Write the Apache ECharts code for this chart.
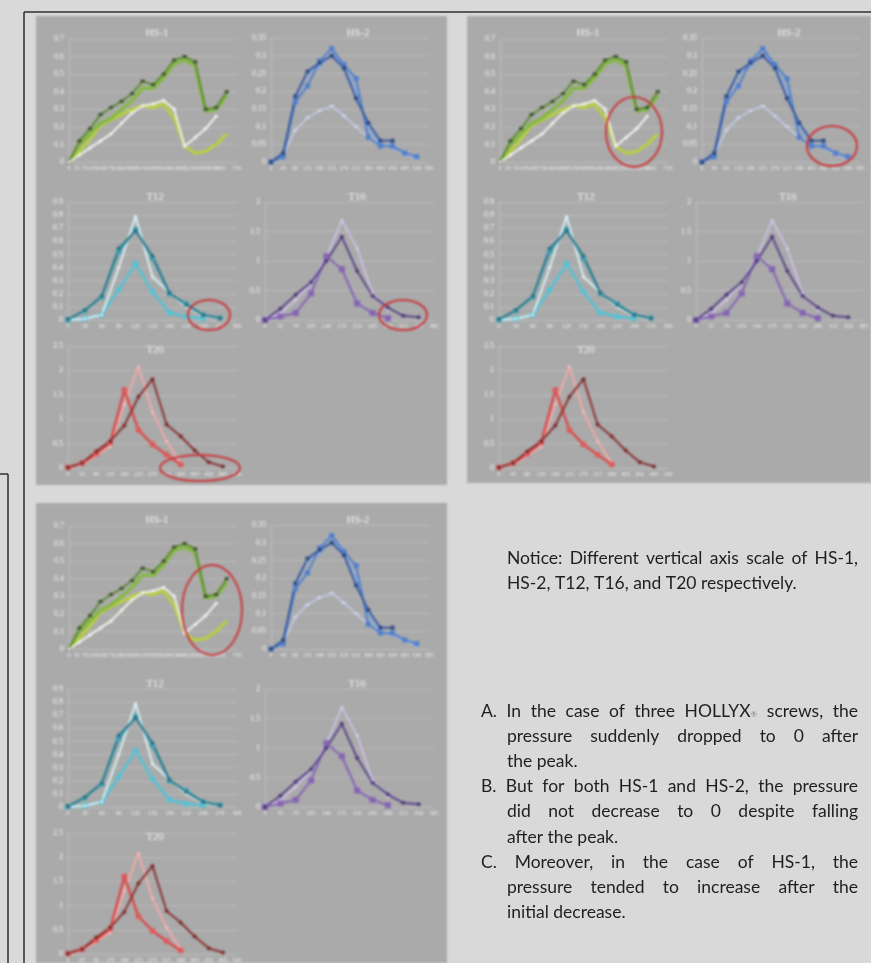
<!DOCTYPE html>
<html>
<head>
<meta charset="utf-8">
<script src="https://cdn.jsdelivr.net/npm/echarts/dist/echarts.min.js"></script>
<style>
  html, body { margin: 0; padding: 0; background: #d9d9d9; overflow: hidden; }
  #plots, #notes { position: absolute; left: 0; top: 0; width: 871px; height: 963px; }
  #plots { filter: blur(0.8px); }
</style>
</head>
<body>
<div id="plots"></div>
<div id="notes"></div>
<script>
// ---------------- data ----------------
// HS-1 : time axis (value axis, tick labels every 35 up to 735)
const hs1TickStep = 35;
const hs1AxisMax = 735;
const hs1Times       = [0, 46, 92, 138, 184, 230, 276, 322, 368, 414, 460, 506, 552, 598, 644, 690];
const hs1DarkGreen   = [0, 0.12, 0.19, 0.27, 0.31, 0.345, 0.39, 0.46, 0.44, 0.50, 0.58, 0.60, 0.57, 0.30, 0.31, 0.40];
const hs1Green       = [0, 0.10, 0.16, 0.22, 0.25, 0.30, 0.35, 0.42, 0.42, 0.48, 0.56, 0.58, 0.55, 0.29, 0.30, 0.38];
const hs1YellowGreen = [0, 0.06, 0.13, 0.21, 0.24, 0.27, 0.30, 0.32, 0.31, 0.33, 0.25, 0.09, 0.05, 0.06, 0.10, 0.16];
const hs1White       = [0, 0.04, 0.08, 0.12, 0.16, 0.22, 0.28, 0.32, 0.33, 0.35, 0.30, 0.09, 0.14, 0.19, 0.26];

// HS-2
const hs2Cats  = ['0', '45', '90', '135', '180', '225', '270', '315', '360', '405', '450', '495', '540', '585'];
const hs2Navy  = [0, 0.025, 0.185, 0.255, 0.28, 0.30, 0.265, 0.18, 0.11, 0.06, 0.06];
const hs2Blue  = [0, 0.015, 0.17, 0.215, 0.285, 0.32, 0.275, 0.235, 0.07, 0.045, 0.045, 0.025, 0.015];
const hs2Sky   = [0, 0.02, 0.18, 0.25, 0.27, 0.305, 0.27, 0.20, 0.10, 0.05, 0.04, 0.025, 0.012];
const hs2Pale  = [0, 0.02, 0.09, 0.125, 0.145, 0.158, 0.13, 0.10, 0.068, 0.05, 0.04, 0.022, 0.01];

// T12
const t12Cats  = ['0', '30', '60', '90', '120', '150', '180', '210', '240', '270', '300'];
const t12Dark  = [0.005, 0.076, 0.183, 0.546, 0.68, 0.488, 0.208, 0.114, 0.038, 0.013];
const t12Teal  = [0.005, 0.07, 0.175, 0.52, 0.69, 0.47, 0.20, 0.125, 0.04, 0.015];
const t12Pale  = [0, 0.01, 0.04, 0.40, 0.79, 0.33, 0.21, 0.10, 0.03, 0.01];
const t12Cyan  = [0, 0.01, 0.04, 0.23, 0.43, 0.215, 0.055, 0.025, 0.012];

// T16
const t16Cats   = ['0', '35', '70', '105', '140', '175', '210', '245', '280', '315', '350', '385'];
const t16Dark   = [0, 0.19, 0.43, 0.64, 1.00, 1.41, 0.83, 0.41, 0.21, 0.07, 0.045];
const t16Purple = [0, 0.06, 0.12, 0.45, 1.08, 0.86, 0.28, 0.12, 0.03];
const t16Pale   = [0, 0.11, 0.34, 0.62, 1.07, 1.69, 1.21, 0.45, 0.17];

// T20
const t20Cats = ['0', '45', '90', '135', '180', '225', '270', '315', '360', '405', '450', '495', '540'];
const t20Dark = [0.01, 0.10, 0.34, 0.55, 0.87, 1.46, 1.82, 0.89, 0.65, 0.36, 0.12, 0.03];
const t20Red  = [0.01, 0.10, 0.29, 0.52, 1.60, 0.78, 0.48, 0.27, 0.07];
const t20Pink = [0, 0.07, 0.25, 0.44, 1.30, 2.08, 1.15, 0.55, 0.10];

// annotation text
const noticeLines = [
  'Notice: Different vertical axis scale of HS-1,',
  'HS-2, T12, T16, and T20 respectively.'
];
const pointLines = [
  ['A. In the case of three HOLLYX® screws, the', 'pressure suddenly dropped to 0 after', 'the peak.'],
  ['B. But for both HS-1 and HS-2, the pressure', 'did not decrease to 0 despite falling', 'after the peak.'],
  ['C. Moreover, in the case of HS-1, the', 'pressure tended to increase after the', 'initial decrease.']
];

// ---------------- chart definitions (layout relative to a panel) ----------------
const chartDefs = [
  { title: 'HS-1', left: 33, top: 23, width: 168, height: 123, yMax: 0.7, yStep: 0.1, titleX: 121, titleY: 17,
    xValue: true,
    lines: [
      { vals: hs1YellowGreen, color: '#b7d040', width: 3 },
      { vals: hs1Green, color: '#86b845', width: 3.5 },
      { vals: hs1DarkGreen, color: '#5e8c34', width: 2, symbol: 'rect', size: [4, 3], mark: '#3d4f2c' },
      { vals: hs1White, color: '#f0f0ea', width: 2, symbol: 'diamond', size: 4, mark: '#f4f4f0' }
    ] },
  { title: 'HS-2', left: 235, top: 22, width: 158, height: 124, yMax: 0.35, yStep: 0.05, titleX: 322, titleY: 17,
    cats: hs2Cats,
    lines: [
      { vals: hs2Pale, color: '#c3cdee', width: 1.5, symbol: 'rect', size: [4, 2], mark: '#d6dcf2' },
      { vals: hs2Sky, color: '#86a8de', width: 2, symbol: 'circle', size: 3, mark: '#86a8de' },
      { vals: hs2Blue, color: '#4f7fcf', width: 2, symbol: 'rect', size: 5, mark: '#4f7fcf' },
      { vals: hs2Navy, color: '#3b5b9b', width: 2, symbol: 'rect', size: 4, mark: '#2f4b82' }
    ] },
  { title: 'T12', left: 32, top: 186, width: 169, height: 118, yMax: 0.9, yStep: 0.1, titleX: 119, titleY: 181,
    cats: t12Cats,
    lines: [
      { vals: t12Cyan, color: '#52c3d8', width: 2.5, symbol: 'rect', size: 5, mark: '#52c3d8' },
      { vals: t12Pale, color: '#d8eff3', width: 2, symbol: 'circle', size: 3, mark: '#e6f5f7' },
      { vals: t12Teal, color: '#3fa1b5', width: 2, symbol: 'rect', size: 5, mark: '#3fa1b5' },
      { vals: t12Dark, color: '#2d7b8c', width: 2, symbol: 'circle', size: 4, mark: '#2a6f7f' }
    ] },
  { title: 'T16', left: 229, top: 186, width: 169, height: 118, yMax: 2, yStep: 0.5, titleX: 321, titleY: 181,
    cats: t16Cats,
    lines: [
      { vals: t16Pale, color: '#cbbfe2', width: 2, symbol: 'circle', size: 3, mark: '#d8cfeb' },
      { vals: t16Purple, color: '#8664b4', width: 2, symbol: 'rect', size: 6, mark: '#8664b4' },
      { vals: t16Dark, color: '#5a4787', width: 2, symbol: 'circle', size: 4, mark: '#4d3b78' }
    ] },
  { title: 'T20', left: 32, top: 330, width: 169, height: 122, yMax: 2.5, yStep: 0.5, titleX: 119, titleY: 334,
    cats: t20Cats,
    lines: [
      { vals: t20Pink, color: '#f3a9a9', width: 2, symbol: 'circle', size: 3, mark: '#f6c0c0' },
      { vals: t20Red, color: '#d94c4c', width: 2.5, symbol: 'circle', size: 6, mark: '#e05a5a' },
      { vals: t20Dark, color: '#8a3434', width: 2, symbol: 'circle', size: 4, mark: '#7a2c2c' }
    ] }
];

// three slide panels, each with its own red highlight rings
const panels = [
  { x: 36, y: 16, w: 411, h: 469, rings: [
      { cx: 173, cy: 299, rx: 21, ry: 15 },
      { cx: 367, cy: 299, rx: 24, ry: 15 },
      { cx: 164, cy: 452, rx: 40, ry: 13 } ] },
  { x: 467, y: 16, w: 404, h: 467, rings: [
      { cx: 167, cy: 116, rx: 28, ry: 35 },
      { cx: 365, cy: 130, rx: 25, ry: 20 } ] },
  { x: 36, y: 503, w: 411, h: 470, rings: [
      { cx: 176, cy: 107, rx: 30, ry: 45 } ] }
];

// ---------------- build the plots ----------------
const labelFont = '"Liberation Serif", "DejaVu Serif", serif';
const grids = [], xAxes = [], yAxes = [], series = [], plotGraphics = [];

panels.forEach(p => {
  plotGraphics.push({ type: 'rect', z: -100, silent: true,
    shape: { x: p.x, y: p.y, width: p.w, height: p.h }, style: { fill: '#aaaaaa' } });

  chartDefs.forEach(c => {
    const gi = grids.length;
    grids.push({ left: p.x + c.left, top: p.y + c.top, width: c.width, height: c.height });
    if (c.xValue) {
      xAxes.push({ type: 'value', gridIndex: gi, min: 0, max: hs1AxisMax, interval: hs1TickStep,
        splitLine: { show: false }, axisTick: { show: false },
        axisLine: { show: true, lineStyle: { color: '#bdbdbd' } },
        axisLabel: { color: '#eeeeee', fontSize: 6, margin: 3, fontFamily: labelFont, showMinLabel: true, showMaxLabel: true } });
    } else {
      xAxes.push({ type: 'category', gridIndex: gi, data: c.cats, boundaryGap: false,
        splitLine: { show: false }, axisTick: { show: false },
        axisLine: { show: true, lineStyle: { color: '#bdbdbd' } },
        axisLabel: { color: '#eeeeee', fontSize: 6, margin: 3, interval: 0, fontFamily: labelFont } });
    }
    yAxes.push({ type: 'value', gridIndex: gi, min: 0, max: c.yMax, interval: c.yStep,
      splitLine: { show: true, lineStyle: { color: '#bababa', width: 1 } },
      axisLine: { show: true, lineStyle: { color: '#bdbdbd' } }, axisTick: { show: false },
      axisLabel: { color: '#f4f4f4', fontSize: 8, margin: 5, fontFamily: labelFont } });

    c.lines.forEach(l => {
      const data = c.xValue ? l.vals.map((v, i) => [hs1Times[i], v]) : l.vals;
      series.push({ type: 'line', xAxisIndex: gi, yAxisIndex: gi, data: data,
        showSymbol: !!l.symbol, symbol: l.symbol || 'none', symbolSize: l.size || 0,
        lineStyle: { color: l.color, width: l.width },
        itemStyle: { color: l.mark || l.color, borderWidth: 0 },
        animation: false, silent: true, connectNulls: false });
    });

    plotGraphics.push({ type: 'text', z: 50, silent: true,
      style: { text: c.title, x: p.x + c.titleX, y: p.y + c.titleY,
        textAlign: 'center', textVerticalAlign: 'middle', align: 'center', verticalAlign: 'middle',
        font: '11px ' + labelFont, fill: '#f4f4f4' } });
  });

  p.rings.forEach(r => {
    plotGraphics.push({ type: 'ellipse', z: 100, silent: true,
      shape: { cx: p.x + r.cx, cy: p.y + r.cy, rx: r.rx, ry: r.ry },
      style: { fill: 'none', stroke: '#c8383c', lineWidth: 2 } });
  });
});

const plots = echarts.init(document.getElementById('plots'), null, { renderer: 'canvas' });
plots.setOption({
  animation: false,
  backgroundColor: 'transparent',
  grid: grids, xAxis: xAxes, yAxis: yAxes, series: series,
  graphic: { elements: plotGraphics }
});

// ---------------- frame lines and notes ----------------
const textSize = 17.5;
const textFont = 'Lato, "Open Sans", sans-serif';
const textColor = '#1f1f1f';
const meas = document.createElement('canvas').getContext('2d');
function widthOf(t, size) { meas.font = size + 'px ' + textFont; return meas.measureText(t).width; }

const noteEls = [
  { type: 'line', shape: { x1: 24, y1: 12, x2: 871, y2: 12 }, style: { stroke: '#2e2e2e', lineWidth: 1.5 } },
  { type: 'line', shape: { x1: 24, y1: 12, x2: 24, y2: 963 }, style: { stroke: '#2e2e2e', lineWidth: 1.5 } },
  { type: 'line', shape: { x1: 0, y1: 474, x2: 8, y2: 474 }, style: { stroke: '#2e2e2e', lineWidth: 1.5 } },
  { type: 'line', shape: { x1: 8, y1: 474, x2: 8, y2: 963 }, style: { stroke: '#2e2e2e', lineWidth: 1.5 } }
];

function wordWidth(w) {
  if (w.indexOf('®') >= 0) return widthOf(w.replace('®', ''), textSize) + widthOf('®', 8);
  return widthOf(w, textSize);
}
function pushWord(w, x, y) {
  const base = w.replace('®', '');
  noteEls.push({ type: 'text', style: { text: base, x: x, y: y, font: textSize + 'px ' + textFont, fill: textColor,
    textAlign: 'left', textVerticalAlign: 'middle', align: 'left', verticalAlign: 'middle' } });
  if (w.indexOf('®') >= 0) {
    noteEls.push({ type: 'text', style: { text: '®', x: x + widthOf(base, textSize) + 0.5, y: y + 4,
      font: '7px ' + textFont, fill: '#7a7a7a',
      textAlign: 'left', textVerticalAlign: 'middle', align: 'left', verticalAlign: 'middle' } });
  }
}
function setLine(line, x0, x1, y, justify) {
  const words = line.split(' ');
  const ws = words.map(wordWidth);
  const total = ws.reduce((a, b) => a + b, 0);
  const gap = (justify && words.length > 1) ? (x1 - x0 - total) / (words.length - 1) : widthOf(' ', textSize);
  let x = x0;
  words.forEach((w, i) => { pushWord(w, x, y); x += ws[i] + gap; });
}

const lineStep = 25.2;
setLine(noticeLines[0], 507, 858, 558, true);
setLine(noticeLines[1], 507, 858, 583.5, false);

let yy = 711;
pointLines.forEach(par => {
  par.forEach((ln, i) => {
    const last = i === par.length - 1;
    setLine(ln, i === 0 ? 481 : 507, 858, yy, !last);
    yy += lineStep;
  });
});

const notes = echarts.init(document.getElementById('notes'), null, { renderer: 'canvas' });
notes.setOption({
  animation: false,
  backgroundColor: 'transparent',
  graphic: { elements: noteEls.map(e => Object.assign({ silent: true }, e)) }
});
</script>
</body>
</html>
